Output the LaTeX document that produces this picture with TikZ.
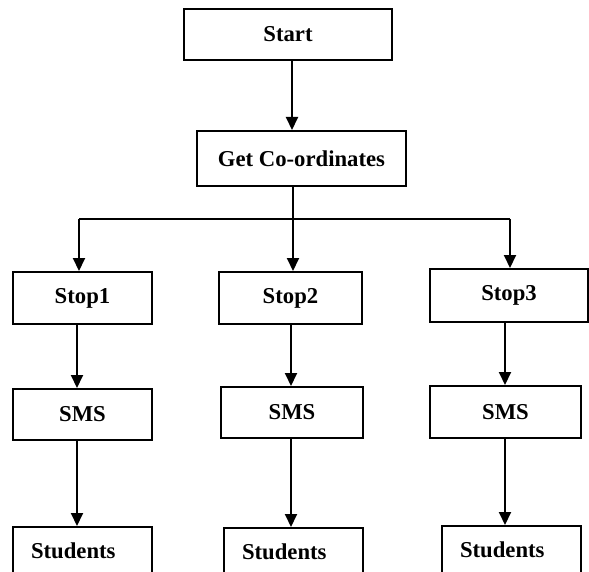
\documentclass[tikz,border=0pt]{standalone}
\usepackage{fontspec}
\setmainfont{Liberation Serif}
\usetikzlibrary{arrows.meta}

\tikzset{
  box/.style={draw=black, line width=2pt, rectangle, inner sep=0pt,
    font=\bfseries\fontsize{22.7}{26}\selectfont},
  leftbox/.style={box, inner xsep=18pt, align=left},
  arr/.style={line width=2pt, -{Triangle[width=12pt,length=13pt]}},
  wire/.style={line width=2pt}
}

\begin{document}
\begin{tikzpicture}[x=1pt, y=-1pt]
  \fill[white] (0,0) rectangle (589,572);
  \clip (0,0) rectangle (589,572);

  % top of the flow
  \node[box, minimum width=208pt, minimum height=51pt] (start) at (288,34.5) {Start};
  \node[box, minimum width=209pt, minimum height=55pt] (get) at (301.5,158.5) {Get Co-ordinates};

  % the three stops
  \node[box, minimum width=139pt, minimum height=52pt] (stop1) at (82.5,298) {Stop1};
  \node[box, minimum width=143pt, minimum height=52pt] (stop2) at (290.5,298) {Stop2};
  \node[box, minimum width=158pt, minimum height=53pt] (stop3) at (509,295.5) {Stop3};

  % messages
  \node[box, minimum width=139pt, minimum height=51pt] (sms1) at (82.5,414.5) {SMS};
  \node[box, minimum width=142pt, minimum height=51pt] (sms2) at (292,412.5) {SMS};
  \node[box, minimum width=151pt, minimum height=52pt] (sms3) at (505.5,412) {SMS};

  % receivers
  \node[leftbox, text width=103pt, minimum height=48pt] (stu1) at (82.5,551) {Students};
  \node[leftbox, text width=103pt, minimum height=48pt] (stu2) at (293.5,552) {Students};
  \node[leftbox, text width=103pt, minimum height=48pt] (stu3) at (511.5,550) {Students};

  % connectors
  \draw[arr] ([xshift=4pt]start.south) -- ([xshift=4pt]start.south |- get.north);

  \coordinate (split) at (293,219);
  \coordinate (b1) at ([xshift=-3.5pt]stop1.north |- split);
  \coordinate (b3) at ([xshift=1pt]stop3.north |- split);
  \draw[wire] (b1) -- (b3);
  \draw[arr] (split |- get.south) -- (split |- stop2.north);
  \draw[arr] (b1) -- (b1 |- stop1.north);
  \draw[arr] (b3) -- (b3 |- stop3.north);

  \draw[arr] ([xshift=-5.5pt]sms1.north |- stop1.south) -- ([xshift=-5.5pt]sms1.north);
  \draw[arr] ([xshift=-1pt]sms2.north |- stop2.south) -- ([xshift=-1pt]sms2.north);
  \draw[arr] ([xshift=-0.5pt]sms3.north |- stop3.south) -- ([xshift=-0.5pt]sms3.north);

  \draw[arr] ([xshift=-5.5pt]sms1.south) -- ([xshift=-5.5pt]sms1.south |- stu1.north);
  \draw[arr] ([xshift=-1pt]sms2.south) -- ([xshift=-1pt]sms2.south |- stu2.north);
  \draw[arr] ([xshift=-0.5pt]sms3.south) -- ([xshift=-0.5pt]sms3.south |- stu3.north);
\end{tikzpicture}
\end{document}
